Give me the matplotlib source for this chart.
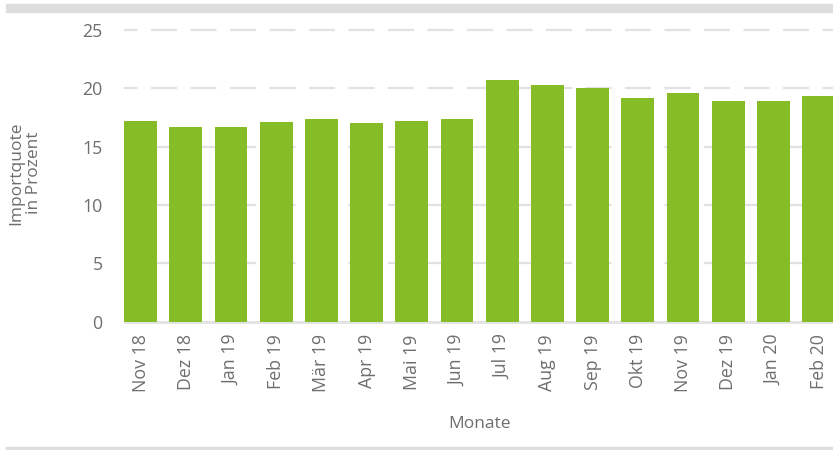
import matplotlib.pyplot as plt
from matplotlib.patches import Rectangle

plt.rcParams['font.family'] = ['Open Sans', 'DejaVu Sans']
plt.rcParams['lines.scale_dashes'] = False

# Daten
monate = ["Nov 18", "Dez 18", "Jan 19", "Feb 19", "Mär 19", "Apr 19", "Mai 19", "Jun 19",
          "Jul 19", "Aug 19", "Sep 19", "Okt 19", "Nov 19", "Dez 19", "Jan 20", "Feb 20"]
importquote = [17.2, 16.7, 16.7, 17.1, 17.4, 17.0, 17.2, 17.4,
               20.7, 20.3, 20.0, 19.2, 19.6, 18.9, 18.9, 19.3]
yticks = [0, 5, 10, 15, 20, 25]

BAR = "#86bc25"
GRID = "#e2e2e2"
TEXT = "#6e6e6e"

W, H = 833, 450
fig = plt.figure(figsize=(W / 100, H / 100), dpi=100)

# Achse in Pixeln: links 118, unten 321.7, oben 24, rechts bis Bildrand
left, bottom, top = 118, 321.7, 24.1
ax = fig.add_axes([left / W, 1 - bottom / H, (W - left) / W, (bottom - top) / H])

step = 45.2
ax.set_xlim(-0.5, (W - left) / step - 0.5)
ax.set_ylim(0, 25.5)

x = list(range(len(monate)))
bw = 0.73
ax.bar(x, importquote, width=bw, color=BAR, zorder=3)

# gestrichelte Gitterlinien (Strich 26px, Luecke 13.5px)
px = 0.72
x0 = -bw / 2
x1 = ax.get_xlim()[1]
for t in yticks[1:]:
    ax.hlines(t, x0, x1, colors=GRID, linewidth=1.6, zorder=1,
              linestyles=(12.5 * px, (26 * px, 13.5 * px)), clip_on=False)
ax.hlines(0, x0, x1, colors=GRID, linewidth=2, zorder=2, clip_on=False)

for s in ax.spines.values():
    s.set_visible(False)
ax.set_yticks(yticks)
ax.set_yticklabels([str(t) for t in yticks])
ax.set_xticks(x)
ax.set_xticklabels(monate, rotation=90, va="top", ha="center")
ax.tick_params(axis="both", length=0, colors=TEXT, labelsize=12.8)
ax.tick_params(axis="y", pad=11)
ax.tick_params(axis="x", pad=9)

fig.text(25 / W, 1 - 173 / H, "Importquote\nin Prozent", rotation=90, ha="center", va="center",
         color=TEXT, fontsize=12.5, linespacing=1.1)
fig.text(480 / W, 1 - 424 / H, "Monate", ha="center", va="center", color=TEXT, fontsize=12.5)

# graue Balken oben und unten
fig.patches.append(Rectangle((6 / W, 1 - 12.3 / H), 1, 8.3 / H, transform=fig.transFigure,
                             color="#dedede", zorder=0))
fig.patches.append(Rectangle((6 / W, 0), 1, 3.5 / H, transform=fig.transFigure,
                             color="#dedede", zorder=0))

fig.savefig("out.png", dpi=100)
